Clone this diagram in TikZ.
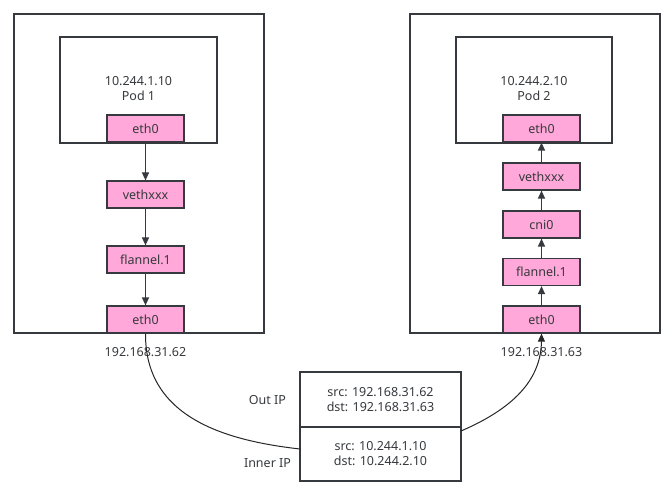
\documentclass[tikz,border=0pt]{standalone}
\usepackage{fontspec}
\setmainfont{Noto Sans}
\usetikzlibrary{arrows.meta}
\definecolor{pinkbox}{HTML}{FFA8D9}
\definecolor{edge}{HTML}{36393D}
\begin{document}
\begin{tikzpicture}[x=1pt,y=-1pt,
  every node/.style={font=\fontsize{12.5}{15}\selectfont, text=edge},
  frame/.style={draw=edge, line width=1.2pt, fill=white},
  iface/.style={draw=edge, line width=1.2pt, fill=pinkbox, minimum width=77pt, minimum height=27pt, inner sep=0pt},
  flow/.style={draw=edge, line width=1.2pt, -{Triangle[length=8pt,width=7pt]}},
  wire/.style={draw=black!85, line width=1pt}]
\useasboundingbox (0,0) rectangle (672,489);
% hosts
\draw[frame] (14,14) rectangle (264,333);
\draw[frame] (410,14) rectangle (660,333);
\draw[frame] (60,37) rectangle (217,143);
\draw[frame] (456,37) rectangle (612,143);
\node[align=center] (pod1) at (138.5,89) {10.244.1.10\\Pod 1};
\node[align=center] (pod2) at (534,89) {10.244.2.10\\Pod 2};
% left interfaces
\node[iface] (l1) at (145.5,128.5) {eth0};
\node[iface] (l2) at (145.5,194.5) {vethxxx};
\node[iface] (l3) at (145.5,259.5) {flannel.1};
\node[iface] (l4) at (145.5,319.5) {eth0};
% right interfaces
\node[iface] (r1) at (541.5,128.5) {eth0};
\node[iface] (r2) at (541.5,176.5) {vethxxx};
\node[iface] (r3) at (541.5,224.5) {cni0};
\node[iface] (r4) at (541.5,272) {flannel.1};
\node[iface] (r5) at (541.5,319.5) {eth0};
\draw[flow] (l1) -- (l2);
\draw[flow] (l2) -- (l3);
\draw[flow] (l3) -- (l4);
\draw[flow] (r5) -- (r4);
\draw[flow] (r4) -- (r3);
\draw[flow] (r3) -- (r2);
\draw[flow] (r2) -- (r1);
\node (ipl) at (145.5,352) {192.168.31.62};
\node (ipr) at (541.5,352) {192.168.31.63};
% packet
\node[frame, minimum width=161pt, minimum height=55pt, inner sep=0pt, align=center] (outer) at (380.5,399.5) {src: 192.168.31.62\\dst: 192.168.31.63};
\node[frame, minimum width=161pt, minimum height=54pt, inner sep=0pt, align=center] (inner) at (380.5,454) {src: 10.244.1.10\\dst: 10.244.2.10};
\node (outl) at (267.5,400) {Out IP};
\node (innl) at (267.5,463) {Inner IP};
% wires
\coordinate (pin) at (300,449);
\coordinate (pout) at (461,431);
\draw[wire] (l4.south) .. controls (145,415) and (220,440) .. (pin);
\draw[wire, -{Triangle[length=8pt,width=7pt]}] (pout) .. controls (505,412) and (541,385) .. (r5.south);
\end{tikzpicture}
\end{document}
